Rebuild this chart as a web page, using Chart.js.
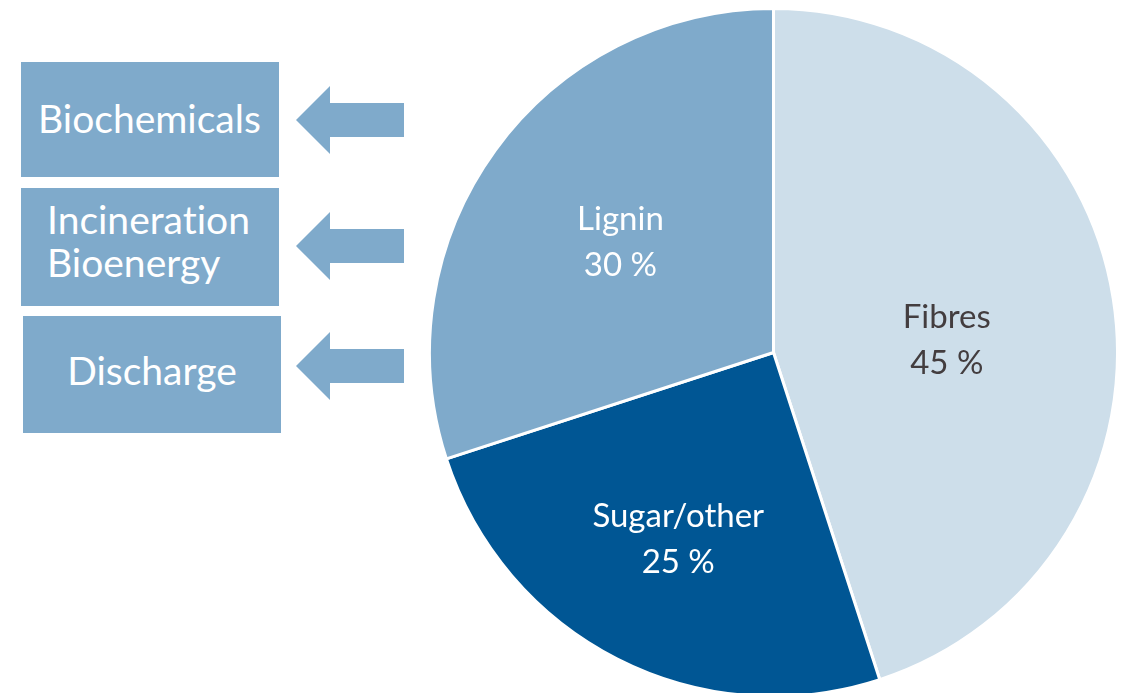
<!DOCTYPE html>
<html>
<head>
<meta charset="utf-8">
<script src="https://cdn.jsdelivr.net/npm/chart.js@4.4.1/dist/chart.umd.min.js"></script>
<style>
  html, body { margin: 0; padding: 0; background: #fff; overflow: hidden; }
  body { width: 1125px; height: 693px; position: relative; font-family: Lato, "Open Sans", sans-serif; }
  .box {
    position: absolute; background: #7faacb; color: #fff;
    font-size: 39px; line-height: 43px; box-sizing: border-box;
    display: flex; align-items: center;
    font-variant-ligatures: none; font-feature-settings: "liga" 0;
  }
  #pieWrap { position: absolute; left: 428px; top: 7px; width: 691px; height: 691px; }
  svg { position: absolute; left: 0; top: 0; }
</style>
</head>
<body>

<div class="box" style="left:21px;top:62px;width:258px;height:115px;padding-left:17px;padding-bottom:2px;">Biochemicals</div>
<div class="box" style="left:21px;top:188px;width:258px;height:118px;padding-left:26px;padding-bottom:12px;">Incineration<br>Bioenergy</div>
<div class="box" style="left:23px;top:316px;width:258px;height:117px;justify-content:center;padding-bottom:8px;">Discharge</div>

<svg width="1125" height="693">
  <g fill="#7faacb">
    <polygon points="296,120 330,86 330,103 404,103 404,137 330,137 330,154"/>
    <polygon points="296,246 330,212 330,229 404,229 404,263 330,263 330,280"/>
    <polygon points="296,366 330,332 330,349 404,349 404,383 330,383 330,400"/>
  </g>
</svg>

<div id="pieWrap"><canvas id="pie"></canvas></div>

<script>
'use strict';

/* ── data ── */
const categories = ['Fibres', 'Sugar/other', 'Lignin'];
const shares     = [45, 25, 30];
const colours    = ['#cddeea', '#005694', '#7faacb'];
const textColours = ['#433d3f', '#ffffff', '#ffffff'];

/* ── in-slice labels ── */
const sliceLabels = {
  id: 'sliceLabels',
  afterDatasetsDraw(chart, args, opts) {
    const ctx  = chart.ctx;
    const meta = chart.getDatasetMeta(0);
    ctx.save();
    ctx.font = '33px Lato, "Open Sans", sans-serif';
    ctx.textAlign = 'center';
    ctx.textBaseline = 'middle';
    meta.data.forEach((arc, i) => {
      const p   = arc.getProps(['x', 'y', 'startAngle', 'endAngle', 'outerRadius'], true);
      const mid = (p.startAngle + p.endAngle) / 2;
      const r   = p.outerRadius * opts.radius[i];
      const cx  = p.x + Math.cos(mid) * r;
      const cy  = p.y + Math.sin(mid) * r + opts.shiftY[i];
      ctx.fillStyle = textColours[i];
      ctx.fillText(categories[i], cx, cy - 23);
      ctx.fillText(shares[i] + ' %', cx, cy + 23);
    });
    ctx.restore();
  }
};

new Chart(document.getElementById('pie'), {
  type: 'pie',
  data: {
    labels: categories,
    datasets: [{
      data: shares,
      backgroundColor: colours,
      borderColor: '#ffffff',
      borderWidth: 3
    }]
  },
  options: {
    responsive: true,
    maintainAspectRatio: false,
    animation: false,
    layout: { padding: 0 },
    plugins: {
      legend: { display: false },
      tooltip: { enabled: false },
      sliceLabels: { radius: [0.51, 0.61, 0.55], shiftY: [15, 0, 1] }
    }
  },
  plugins: [sliceLabels]
});
</script>
</body>
</html>
